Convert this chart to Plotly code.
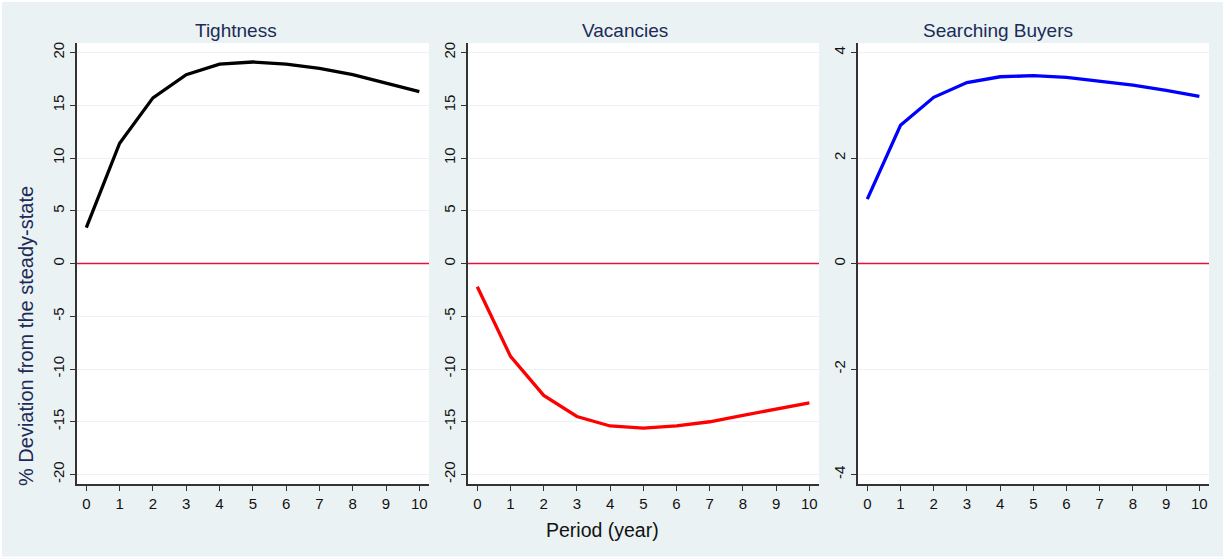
import plotly.graph_objects as go

# Impulse responses, % deviation from steady state, by year
periods = [0, 1, 2, 3, 4, 5, 6, 7, 8, 9, 10]
tightness = [3.4, 11.4, 15.7, 17.9, 18.9, 19.1, 18.9, 18.5, 17.9, 17.1, 16.3]
vacancies = [-2.2, -8.8, -12.5, -14.5, -15.4, -15.6, -15.4, -15.0, -14.4, -13.8, -13.2]
buyers = [1.22, 2.62, 3.15, 3.43, 3.54, 3.56, 3.53, 3.46, 3.38, 3.28, 3.17]

titles = ["Tightness", "Vacancies", "Searching Buyers"]
series = [tightness, vacancies, buyers]
colors = ["#000000", "#FF0000", "#0000FF"]
y_ticks = [[-20, -15, -10, -5, 0, 5, 10, 15, 20],
           [-20, -15, -10, -5, 0, 5, 10, 15, 20],
           [-4, -2, 0, 2, 4]]
y_ranges = [[-20.9, 20.9], [-20.9, 20.9], [-4.18, 4.18]]
x_range = [-0.28, 10.29]

W, H = 1225, 559
ML, MR, MT, MB = 77, 16, 43, 75
PW, PH = W - ML - MR, H - MT - MB


def px_x(px):
    return (px - ML) / PW


def px_y(py):
    return (H - MB - py) / PH


domains = [[px_x(77), px_x(429)], [px_x(468), px_x(819)], [px_x(858), px_x(1209)]]
title_x = [236, 625, 998]

BG = "#EAF2F3"
NAVY = "#1C2B57"
ZERO_RED = "#E8103C"
FONT = "Liberation Sans, Arial, sans-serif"

fig = go.Figure()
layout = dict(
    width=W, height=H,
    margin=dict(l=ML, r=MR, t=MT, b=MB),
    paper_bgcolor=BG, plot_bgcolor="white",
    showlegend=False,
    font=dict(family=FONT, color="#000000"),
)

for i in range(3):
    sfx = "" if i == 0 else str(i + 1)
    # red reference line at zero deviation, spanning the axis range
    fig.add_trace(go.Scatter(
        x=x_range, y=[0, 0], mode="lines",
        line=dict(color=ZERO_RED, width=1.5),
        xaxis="x" + sfx, yaxis="y" + sfx, hoverinfo="skip",
    ))
    fig.add_trace(go.Scatter(
        x=periods, y=series[i], mode="lines",
        line=dict(color=colors[i], width=3.3),
        xaxis="x" + sfx, yaxis="y" + sfx,
    ))
    layout["xaxis" + sfx] = dict(
        domain=domains[i], anchor="y" + sfx, range=x_range,
        tickmode="array", tickvals=periods, ticktext=[str(p) for p in periods],
        ticks="outside", ticklen=5, tickwidth=1.2, tickcolor="#333333",
        showline=True, linecolor="#333333", linewidth=1.5,
        showgrid=False, zeroline=False,
        tickfont=dict(size=15, color="#111111"),
    )
    layout["yaxis" + sfx] = dict(
        domain=[0, 1], anchor="x" + sfx, range=y_ranges[i],
        tickmode="array", tickvals=y_ticks[i], ticktext=[str(v) for v in y_ticks[i]],
        tickangle=-90,
        ticks="outside", ticklen=5, tickwidth=1.2, tickcolor="#333333",
        showline=True, linecolor="#333333", linewidth=1.5,
        showgrid=True, gridcolor=BG, gridwidth=1.2,
        zeroline=False,
        tickfont=dict(size=15, color="#111111"),
    )

annotations = []
for i in range(3):
    annotations.append(dict(
        text=titles[i], xref="paper", yref="paper",
        x=px_x(title_x[i]), y=px_y(30), xanchor="center", yanchor="middle",
        showarrow=False, font=dict(size=19, color=NAVY, family=FONT),
    ))
annotations.append(dict(
    text="% Deviation from the steady-state", xref="paper", yref="paper",
    x=px_x(26), y=px_y(336), xanchor="center", yanchor="middle", textangle=-90,
    showarrow=False, font=dict(size=20, color=NAVY, family=FONT),
))
annotations.append(dict(
    text="Period (year)", xref="paper", yref="paper",
    x=px_x(602), y=px_y(530), xanchor="center", yanchor="middle",
    showarrow=False, font=dict(size=19.5, color="#111111", family=FONT),
))
layout["annotations"] = annotations

# thin white frame around the outer background
layout["shapes"] = [dict(
    type="rect", xref="paper", yref="paper",
    x0=px_x(1), x1=px_x(W - 1), y0=px_y(H - 1.5), y1=px_y(1),
    line=dict(color="white", width=2), fillcolor="rgba(0,0,0,0)", layer="below",
)]

fig.update_layout(**layout)
fig.write_html("out.html")
